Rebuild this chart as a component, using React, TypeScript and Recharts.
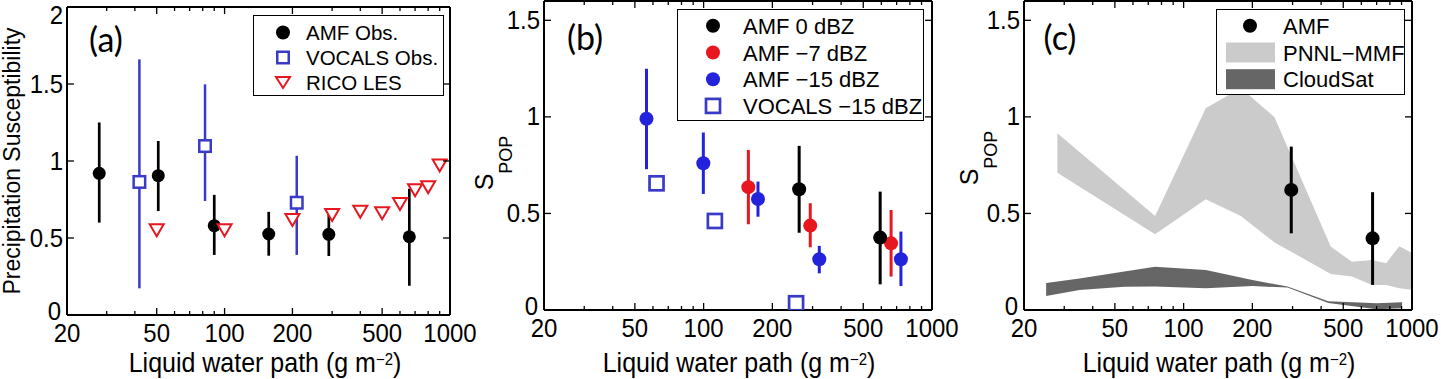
import React from 'react';
import { ComposedChart, Scatter, Area, XAxis, YAxis, ErrorBar } from 'recharts';

const FONT = '"Liberation Sans", Arial, Helvetica, sans-serif';
const TAG_FONT = 'Lato, "Open Sans", sans-serif';
const STRETCH = 1.1; // the source figure's axis text is a little taller than wide

const BLACK = '#000000';
const BLUE_A = '#3a3ac8';
const RED = '#e8161f';
const BLUE_B = '#2323dc';
const PNNL = '#cbcbcb';
const CLOUDSAT = '#666666';

const xMajor = [20, 50, 100, 200, 500, 1000];
const xMinor = [30, 40, 60, 70, 80, 90, 300, 400, 600, 700, 800, 900];
const xTicks = [...xMajor, ...xMinor].sort((a, b) => a - b);
const yTicksA = [0, 0.5, 1, 1.5, 2];
const yTicksBC = [0, 0.5, 1, 1.5];

// (a) precipitation susceptibility
const amfObsLwp = [27.8, 50.8, 90, 157, 290, 660];
const amfObsS = [0.92, 0.905, 0.58, 0.526, 0.524, 0.508];
const amfObsLo = [0.6, 0.675, 0.39, 0.385, 0.383, 0.19];
const amfObsHi = [1.25, 1.13, 0.78, 0.67, 0.66, 0.82];
const vocalsObsLwp = [41.9, 81.9, 209];
const vocalsObsS = [0.864, 1.097, 0.729];
const vocalsObsLo = [0.173, 0.74, 0.39];
const vocalsObsHi = [1.66, 1.498, 1.034];
const ricoLwp = [50, 100, 200, 300, 400, 500, 600, 700, 800, 900];
const ricoS = [0.55, 0.55, 0.617, 0.65, 0.67, 0.66, 0.72, 0.81, 0.83, 0.97];

// (b) S_POP for several reflectivity thresholds
const amf0Lwp = [262, 593];
const amf0S = [0.625, 0.375];
const amf0Lo = [0.4, 0.133];
const amf0Hi = [0.85, 0.613];
const amf7Lwp = [157, 293, 662];
const amf7S = [0.636, 0.437, 0.345];
const amf7Lo = [0.444, 0.325, 0.173];
const amf7Hi = [0.829, 0.553, 0.518];
const amf15Lwp = [56.2, 99.7, 173, 321, 731];
const amf15S = [0.99, 0.76, 0.575, 0.263, 0.263];
const amf15Lo = [0.729, 0.601, 0.483, 0.19, 0.124];
const amf15Hi = [1.249, 0.919, 0.665, 0.332, 0.406];
const vocals15Lwp = [62.2, 112, 254];
const vocals15S = [0.656, 0.461, 0.035];

// (c) AMF vs model / satellite ranges
const amfCLwp = [296, 672];
const amfCS = [0.622, 0.371];
const amfCLo = [0.397, 0.13];
const amfCHi = [0.846, 0.61];
const pnnlLwp = [28, 75, 125, 178, 250, 441, 546, 668, 770, 880, 1000];
const pnnlLow = [0.711, 0.392, 0.573, 0.487, 0.35, 0.187, 0.173, 0.13, 0.13, 0.112, 0.105];
const pnnlHigh = [0.915, 0.487, 1.045, 1.15, 0.998, 0.328, 0.25, 0.259, 0.242, 0.33, 0.295];
const cloudsatLwp = [25, 35, 55, 75, 125, 200, 285, 430, 700, 905];
const cloudsatLow = [0.073, 0.104, 0.121, 0.122, 0.112, 0.124, 0.116, 0.036, 0.004, 0.009];
const cloudsatHigh = [0.14, 0.163, 0.2, 0.224, 0.207, 0.155, 0.122, 0.045, 0.035, 0.04];

const legendA = ['AMF Obs.', 'VOCALS Obs.', 'RICO LES'];
const legendB = ['AMF 0 dBZ', 'AMF \u22127 dBZ', 'AMF \u221215 dBZ', 'VOCALS \u221215 dBZ'];
const legendC = ['AMF', 'PNNL\u2212MMF', 'CloudSat'];

const rows = (xs: number[], ys: number[], lo?: number[], hi?: number[]) =>
  xs.map((x, i) => ({ x, y: ys[i], err: lo && hi ? [ys[i] - lo[i], hi[i] - ys[i]] : [0, 0] }));

const bandLwp = Array.from(new Set([...pnnlLwp, ...cloudsatLwp])).sort((a, b) => a - b);
const bandRows = bandLwp.map((x) => {
  const i = pnnlLwp.indexOf(x);
  const j = cloudsatLwp.indexOf(x);
  return {
    x,
    pnnl: i >= 0 ? [pnnlLow[i], pnnlHigh[i]] : [null, null],
    cloudsat: j >= 0 ? [cloudsatLow[j], cloudsatHigh[j]] : [null, null],
  };
});

// marker shapes
const dot = (r: number, fill: string) => (p: any) => <circle cx={p.cx} cy={p.cy} r={r} fill={fill} />;
const square = (s: number, stroke: string, sw: number) => (p: any) => (
  <rect x={p.cx - s / 2} y={p.cy - s / 2} width={s} height={s} fill="#fff" stroke={stroke} strokeWidth={sw} />
);
const triDown = (w: number, h: number, stroke: string, sw: number) => (p: any) => (
  <polygon
    points={`${p.cx - w / 2},${p.cy - h / 2} ${p.cx + w / 2},${p.cy - h / 2} ${p.cx},${p.cy + h / 2}`}
    fill="#fff" stroke={stroke} strokeWidth={sw}
  />
);

const TallText = ({ x, y, anchor, size, children }: any) => (
  <text transform={`translate(${x},${y}) scale(1,${STRETCH})`} textAnchor={anchor} fontSize={size} fontFamily={FONT} fill={BLACK}>
    {children}
  </text>
);

function XTick({ x, y, payload, top }: any) {
  const v = payload.value;
  const len = xMajor.includes(v) ? 7 : 4;
  if (top) return <line x1={x} x2={x} y1={y} y2={y + len} stroke={BLACK} strokeWidth={1.3} />;
  return (
    <g>
      <line x1={x} x2={x} y1={y} y2={y - len} stroke={BLACK} strokeWidth={1.3} />
      {xMajor.includes(v) && <TallText x={x} y={y + 27} anchor="middle" size={24}>{v}</TallText>}
    </g>
  );
}

function YTick({ x, y, payload, right }: any) {
  if (right) return <line x1={x} x2={x - 7} y1={y} y2={y} stroke={BLACK} strokeWidth={1.3} />;
  const v = payload.value;
  const base = v === 0 ? y + 5 : Math.max(y + 8.5, 24);
  return (
    <g>
      <line x1={x} x2={x + 7} y1={y} y2={y} stroke={BLACK} strokeWidth={1.3} />
      <TallText x={v === 0 ? x - 6 : x - 4} y={base} anchor="end" size={24}>{v}</TallText>
    </g>
  );
}

const axisLine = { stroke: BLACK, strokeWidth: 2 };

// axes take 1px each, so the chart margins are one less than the frame position
function frame(yTicks: number[], yMax: number) {
  const xCommon = {
    type: 'number' as const, scale: 'log' as const, domain: [20, 1000], allowDataOverflow: true,
    dataKey: 'x', ticks: xTicks, interval: 0, tickSize: 0, tickMargin: 0, tickLine: false, axisLine, height: 1,
  };
  const yCommon = {
    type: 'number' as const, domain: [0, yMax], allowDataOverflow: true, dataKey: 'y', ticks: yTicks,
    interval: 0, tickSize: 0, tickMargin: 0, tickLine: false, axisLine, width: 1,
  };
  return [
    <XAxis key="xb" {...xCommon} tick={(p: any) => <XTick {...p} top={false} />} />,
    <XAxis key="xt" xAxisId="top" orientation="top" {...xCommon} tick={(p: any) => <XTick {...p} top />} />,
    <YAxis key="yl" {...yCommon} tick={(p: any) => <YTick {...p} right={false} />} />,
    <YAxis key="yr" yAxisId="right" orientation="right" {...yCommon} tick={(p: any) => <YTick {...p} right />} />,
  ];
}

const XTitle = ({ cx }: { cx: number }) => (
  <TallText x={cx} y={372} anchor="middle" size={25}>
    Liquid water path (g m<tspan dy={-6} fontSize={15}>{'\u2212'}2</tspan><tspan dy={6}>)</tspan>
  </TallText>
);

const SPop = ({ x, y }: { x: number; y: number }) => (
  <text transform={`translate(${x},${y}) rotate(-90)`} textAnchor="middle" fontSize={25} fontFamily={FONT} fill={BLACK}>
    S<tspan dy={19} fontSize={18}>POP</tspan>
  </text>
);

const Tag = ({ x, y, t }: { x: number; y: number; t: string }) => (
  <text x={x} y={y} textAnchor="middle" fontSize={34} fontFamily={TAG_FONT} fill={BLACK}>{t}</text>
);

function Overlay() {
  const rowsA = [32.5, 57.5, 82.5];
  const rowsB = [25.8, 52.5, 79.2, 105.9];
  const rowsC = [25.8, 52.5, 79.2];
  const markA = [dot(7, BLACK), square(11.5, BLUE_A, 2.5), triDown(14, 11, RED, 2)];
  const markB = [dot(7, BLACK), dot(7, RED), dot(7, BLUE_B), square(14, BLUE_A, 2.7)];
  return (
    <svg width={1441} height={379} style={{ position: 'absolute', left: 0, top: 0, pointerEvents: 'none' }}>
      <XTitle cx={265} />
      <XTitle cx={739} />
      <XTitle cx={1219} />
      <text transform="translate(20,161) rotate(-90)" textAnchor="middle" fontSize={23} fontFamily={FONT} fill={BLACK}>
        Precipitation Susceptibility
      </text>
      <SPop x={493} y={163} />
      <SPop x={978} y={158} />
      <Tag x={106} y={52} t="(a)" />
      <Tag x={585} y={50} t="(b)" />
      <Tag x={1060} y={50} t="(c)" />

      <rect x={253.5} y={15.5} width={190} height={80} fill="#fff" stroke={BLACK} strokeWidth={1} />
      {legendA.map((t, i) => (
        <g key={t}>
          {markA[i]({ cx: 283, cy: rowsA[i] })}
          <text x={306} y={rowsA[i] + 7.5} fontSize={20.5} fontFamily={FONT} fill={BLACK}>{t}</text>
        </g>
      ))}

      <rect x={677.5} y={9.5} width={246} height={111} fill="#fff" stroke={BLACK} strokeWidth={1} />
      {legendB.map((t, i) => (
        <g key={t}>
          {markB[i]({ cx: 713, cy: rowsB[i] })}
          <text x={743} y={rowsB[i] + 8} fontSize={22} fontFamily={FONT} fill={BLACK}>{t}</text>
        </g>
      ))}

      <rect x={1216.5} y={9.5} width={188} height={85} fill="#fff" stroke={BLACK} strokeWidth={1} />
      {dot(7, BLACK)({ cx: 1250, cy: rowsC[0] })}
      <rect x={1226} y={rowsC[1] - 10} width={49} height={20} fill={PNNL} />
      <rect x={1226} y={rowsC[2] - 10} width={49} height={20} fill={CLOUDSAT} />
      {legendC.map((t, i) => (
        <text key={t} x={1283} y={rowsC[i] + 8} fontSize={22} fontFamily={FONT} fill={BLACK}>{t}</text>
      ))}
    </svg>
  );
}

export default function App() {
  return (
    <div style={{ position: 'absolute', left: 0, top: 0, width: 1441, height: 379, background: '#fff', overflow: 'hidden' }}>
      <div style={{ position: 'absolute', left: 0, top: 0 }}>
        <ComposedChart width={480} height={379} margin={{ top: 6, right: 29, bottom: 63, left: 66 }}>
          {frame(yTicksA, 2)}
          <Scatter data={rows(amfObsLwp, amfObsS, amfObsLo, amfObsHi)} dataKey="y" shape={dot(6.5, BLACK)} isAnimationActive={false}>
            <ErrorBar dataKey="err" direction="y" width={0} stroke={BLACK} strokeWidth={2.7} isAnimationActive={false} />
          </Scatter>
          <Scatter data={rows(vocalsObsLwp, vocalsObsS, vocalsObsLo, vocalsObsHi)} dataKey="y" shape={square(11.5, BLUE_A, 2.5)} isAnimationActive={false}>
            <ErrorBar dataKey="err" direction="y" width={0} stroke={BLUE_A} strokeWidth={2.5} isAnimationActive={false} />
          </Scatter>
          <Scatter data={rows(ricoLwp, ricoS)} dataKey="y" shape={triDown(14, 12, RED, 2)} isAnimationActive={false} />
        </ComposedChart>
      </div>

      <div style={{ position: 'absolute', left: 480, top: 0 }}>
        <ComposedChart width={480} height={379} margin={{ top: 0, right: 27, bottom: 68, left: 63 }}>
          {frame(yTicksBC, 1.6)}
          <Scatter data={rows(amf15Lwp, amf15S, amf15Lo, amf15Hi)} dataKey="y" shape={dot(7, BLUE_B)} isAnimationActive={false}>
            <ErrorBar dataKey="err" direction="y" width={0} stroke={BLUE_B} strokeWidth={3} isAnimationActive={false} />
          </Scatter>
          <Scatter data={rows(vocals15Lwp, vocals15S)} dataKey="y" shape={square(14, BLUE_A, 2.7)} isAnimationActive={false} />
          <Scatter data={rows(amf7Lwp, amf7S, amf7Lo, amf7Hi)} dataKey="y" shape={dot(7, RED)} isAnimationActive={false}>
            <ErrorBar dataKey="err" direction="y" width={0} stroke={RED} strokeWidth={3} isAnimationActive={false} />
          </Scatter>
          <Scatter data={rows(amf0Lwp, amf0S, amf0Lo, amf0Hi)} dataKey="y" shape={dot(7, BLACK)} isAnimationActive={false}>
            <ErrorBar dataKey="err" direction="y" width={0} stroke={BLACK} strokeWidth={3} isAnimationActive={false} />
          </Scatter>
        </ComposedChart>
      </div>

      <div style={{ position: 'absolute', left: 960, top: 0 }}>
        <ComposedChart width={481} height={379} data={bandRows} margin={{ top: 0, right: 28, bottom: 68, left: 63 }}>
          {frame(yTicksBC, 1.6)}
          <Area dataKey="pnnl" type="linear" stroke="none" fill={PNNL} fillOpacity={1} connectNulls isAnimationActive={false} />
          <Area dataKey="cloudsat" type="linear" stroke="none" fill={CLOUDSAT} fillOpacity={1} connectNulls isAnimationActive={false} />
          <Scatter data={rows(amfCLwp, amfCS, amfCLo, amfCHi)} dataKey="y" shape={dot(7, BLACK)} isAnimationActive={false}>
            <ErrorBar dataKey="err" direction="y" width={0} stroke={BLACK} strokeWidth={3} isAnimationActive={false} />
          </Scatter>
        </ComposedChart>
      </div>

      <Overlay />
    </div>
  );
}
